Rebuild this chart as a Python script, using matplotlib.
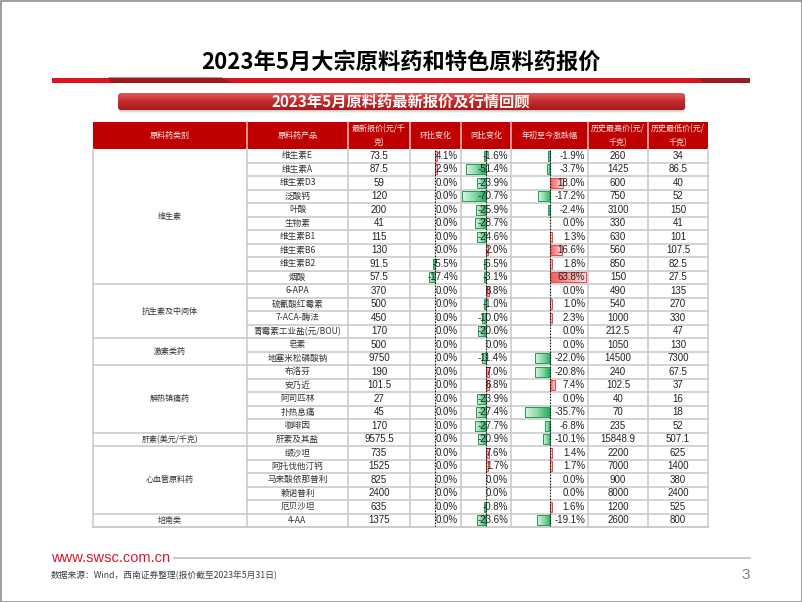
import matplotlib
matplotlib.use('Agg')
import matplotlib.pyplot as plt
from matplotlib.patches import Rectangle, FancyBboxPatch, Polygon
import numpy as np

CJK = ['Noto Sans CJK SC', 'DejaVu Sans']
NUM = ['Liberation Sans', 'DejaVu Sans']

# ---------------- data ----------------
title = '2023年5月大宗原料药和特色原料药报价'
subtitle = '2023年5月原料药最新报价及行情回顾'
header_labels = ['原料药类别', '原料药产品', '最新报价(元/千\n克)', '环比变化', '同比变化',
                 '年初至今涨跌幅', '历史最高价(元/\n千克)', '历史最低价(元/\n千克)']
categories = ['维生素', '抗生素及中间体', '激素类药', '解热镇痛药', '肝素(美元/千克)', '心血管原料药', '培南类']
category_sizes = [10, 4, 2, 5, 1, 5, 1]
products = ['维生素E', '维生素A', '维生素D3', '泛酸钙', '叶酸', '生物素', '维生素B1', '维生素B6', '维生素B2', '烟酸',
            '6-APA', '硫氰酸红霉素', '7-ACA-酶法', '青霉素工业盐(元/BOU)',
            '皂素', '地塞米松磷酸钠',
            '布洛芬', '安乃近', '阿司匹林', '扑热息痛', '咖啡因',
            '肝素及其盐',
            '缬沙坦', '阿托伐他汀钙', '马来酸依那普利', '赖诺普利', '厄贝沙坦',
            '4-AA']
latest_price = [73.5, 87.5, 59, 120, 200, 41, 115, 130, 91.5, 57.5,
                370, 500, 450, 170,
                500, 9750,
                190, 101.5, 27, 45, 170,
                9575.5,
                735, 1525, 825, 2400, 635,
                1375]
mom_change = [4.1, 2.9, 0.0, 0.0, 0.0, 0.0, 0.0, 0.0, -5.5, -17.4,
              0.0, 0.0, 0.0, 0.0,
              0.0, 0.0,
              0.0, 0.0, 0.0, 0.0, 0.0,
              0.0,
              0.0, 0.0, 0.0, 0.0, 0.0,
              0.0]
yoy_change = [-1.6, -51.4, -23.9, -70.7, -25.9, -28.7, -24.6, 2.0, -6.5, -3.1,
              8.8, -1.0, -10.0, -20.0,
              0.0, -11.4,
              7.0, 6.8, -23.9, -27.4, -27.7,
              -20.9,
              7.6, 1.7, 0.0, 0.0, -0.8,
              -23.6]
ytd_change = [-1.9, -3.7, 18.0, -17.2, -2.4, 0.0, 1.3, 16.6, 1.8, 63.8,
              0.0, 1.0, 2.3, 0.0,
              0.0, -22.0,
              -20.8, 7.4, 0.0, -35.7, -6.8,
              -10.1,
              1.4, 1.7, 0.0, 0.0, 1.6,
              -19.1]
hist_high = [260, 1425, 600, 750, 3100, 330, 630, 560, 850, 150,
             490, 540, 1000, 212.5,
             1050, 14500,
             240, 102.5, 40, 70, 235,
             15848.9,
             2200, 7000, 900, 8000, 1200,
             2600]
hist_low = [34, 86.5, 40, 52, 150, 41, 101, 107.5, 82.5, 27.5,
            135, 270, 330, 47,
            130, 7300,
            67.5, 37, 16, 18, 52,
            507.1,
            625, 1400, 380, 2400, 525,
            800]
source_text = '数据来源：Wind，西南证券整理(报价截至2023年5月31日)'
site_text = 'www.swsc.com.cn'
page_no = '3'


def fmt_num(v):
    return f'{v:g}' if float(v).is_integer() else f'{v:.1f}'


def fmt_pct(v):
    return f'{v:.1f}%'


# ---------------- figure ----------------
fig = plt.figure(figsize=(8.02, 6.02), dpi=100)
ax = fig.add_axes([0, 0, 1, 1])
ax.set_autoscale_on(False)
ax.set_xlim(0, 802)
ax.set_ylim(602, 0)
ax.axis('off')

# slide frame
ax.add_patch(Rectangle((0.5, 0.5), 801, 601, fill=False, ec='#8c8c8c', lw=1.2))

# title
ax.text(401, 62, title, fontsize=16, fontweight='bold', ha='center', va='center', family=CJK, color='black')

# red rule under title
ax.add_patch(Rectangle((52, 77.5), 698, 5.5, color='#dc1420', lw=0))
ax.add_patch(Polygon([(108, 77.5), (222, 77.5), (232, 83), (112, 83)], closed=True, color='#9c1c1c', lw=0))
ax.add_patch(Polygon([(698, 77.5), (750, 77.5), (750, 83), (704, 83)], closed=True, color='#9c1c1c', lw=0))

# banner
for off, a in [(3.0, 0.10), (2.0, 0.15), (1.0, 0.2)]:
    ax.add_patch(FancyBboxPatch((118 + off * 0.3, 93 + off), 567, 17, boxstyle='round,pad=0,rounding_size=3',
                                fc='#7f7f7f', ec='none', alpha=a))
banner = FancyBboxPatch((118, 93), 567, 17, boxstyle='round,pad=0,rounding_size=3', fc='none', ec='none')
ax.add_patch(banner)
grad = np.linspace(0, 1, 50).reshape(-1, 1)
im = ax.imshow(grad, extent=(118, 685, 110, 93), cmap=matplotlib.colors.LinearSegmentedColormap.from_list(
    'b', ['#e05a5a', '#c42a2a', '#a81a1a']), aspect='auto', zorder=2)
im.set_clip_path(banner)
ax.text(401, 101.5, subtitle, fontsize=11, fontweight='bold', ha='center', va='center', family=CJK,
        color='white', zorder=3)

# ---------------- table ----------------
col_x = [93, 247, 348, 410, 461, 511, 588, 648, 708]
head_top, head_bot = 122, 149
n_rows = len(products)
row_h = 13.5
body_bot = head_bot + n_rows * row_h
grid_c = '#c8c8c8'

ax.add_patch(Rectangle((col_x[0], head_top), col_x[-1] - col_x[0], head_bot - head_top, color='#c00000', lw=0))
for i, lab in enumerate(header_labels):
    cx = (col_x[i] + col_x[i + 1]) / 2
    ax.text(cx, (head_top + head_bot) / 2, lab, fontsize=5.8, ha='center', va='center', family=CJK,
            color='#fbe8e8', linespacing=1.6)
for x in col_x[1:-1]:
    ax.plot([x, x], [head_top, head_bot], color='#e8b0b0', lw=1.2)

# grid
group_edges = np.cumsum([0] + category_sizes)
for r in range(1, n_rows):
    y = head_bot + r * row_h
    x0 = col_x[0] if r in group_edges else col_x[1]
    ax.plot([x0, col_x[-1]], [y, y], color=grid_c, lw=1.1)
ax.plot([col_x[0], col_x[-1]], [body_bot, body_bot], color=grid_c, lw=1.3)
for x in col_x:
    ax.plot([x, x], [head_bot, body_bot], color=grid_c, lw=1.1)

# category labels
for k, cat in enumerate(categories):
    yc = head_bot + (group_edges[k] + group_edges[k + 1]) / 2 * row_h
    ax.text((col_x[0] + col_x[1]) / 2, yc, cat, fontsize=5.8, ha='center', va='center', family=CJK, color='#333333')

# data bars
axis_x = [435, 486, 550]
scales = [0.36, 0.38, 0.7]
cols_vals = [mom_change, yoy_change, ytd_change]
limits = [(col_x[3] + 1, col_x[4] - 1), (col_x[4] + 1, col_x[5] - 1), (col_x[5] + 1, col_x[6] - 2)]
green_cm = matplotlib.colors.LinearSegmentedColormap.from_list('g', ['#dcf5e5', '#8ad9a8', '#22ad5c'])
red_cm = matplotlib.colors.LinearSegmentedColormap.from_list('r', ['#f25c5c', '#f79a9a', '#fde0e0'])
hgrad = np.linspace(0, 1, 64).reshape(1, -1)


def draw_bar(xa, yc, v, scale, lim):
    if v == 0:
        return
    L = max(abs(v) * scale, 1.6)
    h = row_h - 3.5
    if v < 0:
        x0 = max(xa - L, lim[0])
        ax.imshow(hgrad, extent=(x0, xa, yc + h / 2, yc - h / 2), cmap=green_cm, aspect='auto', zorder=3)
        ax.add_patch(Rectangle((x0, yc - h / 2), xa - x0, h, fill=False, ec='#1f9e52', lw=0.7, zorder=4))
    else:
        x1 = min(xa + L, lim[1])
        ax.imshow(hgrad, extent=(xa, x1, yc + h / 2, yc - h / 2), cmap=red_cm, aspect='auto', zorder=3)
        ax.add_patch(Rectangle((xa, yc - h / 2), x1 - xa, h, fill=False, ec='#e34848', lw=0.7, zorder=4))


for r in range(n_rows):
    yc = head_bot + (r + 0.5) * row_h
    ax.text((col_x[1] + col_x[2]) / 2, yc, products[r], fontsize=6.2, ha='center', va='center', family=CJK,
            color='#333333')
    ax.text((col_x[2] + col_x[3]) / 2, yc, fmt_num(latest_price[r]), fontsize=7, ha='center', va='center',
            family=NUM, color='#222222')
    for j in range(3):
        draw_bar(axis_x[j], yc, cols_vals[j][r], scales[j], limits[j])
    ax.text(col_x[4] - 3, yc, fmt_pct(mom_change[r]), fontsize=7, ha='right', va='center', family=NUM,
            color='#222222', zorder=5)
    ax.text(col_x[5] - 3, yc, fmt_pct(yoy_change[r]), fontsize=7, ha='right', va='center', family=NUM,
            color='#222222', zorder=5)
    ax.text(col_x[6] - 3, yc, fmt_pct(ytd_change[r]), fontsize=7, ha='right', va='center', family=NUM,
            color='#222222', zorder=5)
    ax.text((col_x[6] + col_x[7]) / 2, yc, fmt_num(hist_high[r]), fontsize=7, ha='center', va='center',
            family=NUM, color='#222222')
    ax.text((col_x[7] + col_x[8]) / 2, yc, fmt_num(hist_low[r]), fontsize=7, ha='center', va='center',
            family=NUM, color='#222222')

for xa in axis_x:
    ax.plot([xa, xa], [head_bot + 1, body_bot - 1], color='#111111', lw=0.8, ls=(0, (1.5, 1.2)), zorder=6)

# footer
ax.text(51, 558, site_text, fontsize=10.5, ha='left', va='center', family=NUM, color='#d7192a')
ax.plot([174, 750], [558, 558], color='#bfbfbf', lw=1.2)
ax.text(51, 575, source_text, fontsize=6.3, ha='left', va='center', family=CJK, color='#404040', style='italic')
ax.text(750, 575, page_no, fontsize=11, ha='right', va='center', family=NUM, color='#7f7f7f')

ax.set_xlim(0, 802)
ax.set_ylim(602, 0)
fig.savefig('out.png', dpi=100)
